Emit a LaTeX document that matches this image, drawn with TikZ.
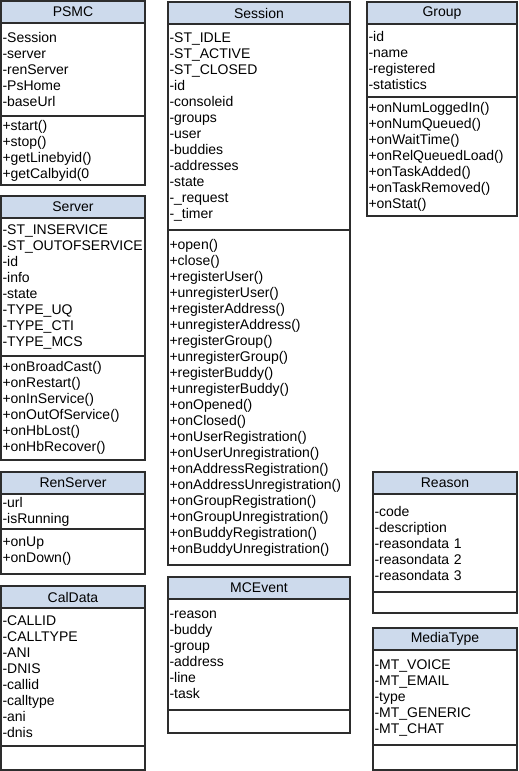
\documentclass[tikz,border=0pt]{standalone}
\usepackage{fontspec}
\setmainfont{Liberation Sans}
\usetikzlibrary{positioning}
\definecolor{headblue}{RGB}{205,218,236}
\definecolor{bordo}{RGB}{45,45,45}
\exhyphenpenalty=10000
\hyphenpenalty=10000

\begin{document}
\begin{tikzpicture}[x=1pt, y=-1pt, node distance=12pt, font=\fontsize{14}{16}\selectfont]
        % Stili
        \tikzstyle{head} = [draw=bordo, line width=1.2pt, fill=headblue, minimum height=22pt, inner xsep=1.5pt, inner ysep=0pt, outer sep=0pt, align=center]
        \tikzstyle{part} = [draw=bordo, line width=1.2pt, fill=white, inner xsep=1.5pt, inner ysep=0pt, outer sep=0pt, align=left]
        \tikzstyle{narrow} = [text width=141pt]
        \tikzstyle{mid} = [text width=147pt]
        \tikzstyle{wide} = [text width=179pt]

        \fill [white] (0,0) rectangle (519,771);
        \useasboundingbox (0,0) rectangle (519,771);

        % Colonna sinistra
        \node [head, narrow, anchor=north west] (psmc) at (1,1) {PSMC};
        \node [part, narrow, minimum height=93pt, below=0pt of psmc] (psmcA) {-Session\\-server\\-renServer\\-PsHome\\-baseUrl};
        \node [part, narrow, minimum height=69pt, below=0pt of psmcA] (psmcM) {+start()\\+stop()\\+getLinebyid()\\+getCalbyid(0};

        \node [head, narrow, below=11pt of psmcM] (server) {Server};
        \node [part, narrow, minimum height=138pt, below=0pt of server] (serverA) {-ST\_INSERVICE\\-ST\_OUTOFSERVICE\\-id\\-info\\-state\\-TYPE\_UQ\\-TYPE\_CTI\\-TYPE\_MCS};
        \node [part, narrow, minimum height=104pt, below=0pt of serverA] (serverM) {+onBroadCast()\\+onRestart()\\+onInService()\\+onOutOfService()\\+onHbLost()\\+onHbRecover()};

        \node [head, narrow, below=12pt of serverM] (ren) {RenServer};
        \node [part, narrow, minimum height=35pt, below=0pt of ren] (renA) {-url\\-isRunning};
        \node [part, narrow, minimum height=45pt, below=0pt of renA] (renM) {+onUp\\+onDown()};

        \node [head, narrow, below=12pt of renM] (cal) {CalData};
        \node [part, narrow, minimum height=138pt, below=0pt of cal] (calA) {-CALLID\\-CALLTYPE\\-ANI\\-DNIS\\-callid\\-calltype\\-ani\\-dnis};
        \node [part, narrow, minimum height=24pt, below=0pt of calA] (calM) {};

        % Colonna centrale
        \node [head, wide, anchor=north west] (session) at (168,2) {Session};
        \node [part, wide, minimum height=206pt, below=0pt of session] (sessionA) {-ST\_IDLE\\-ST\_ACTIVE\\-ST\_CLOSED\\-id\\-consoleid\\-groups\\-user\\-buddies\\-addresses\\-state\\-\_request\\-\_timer};
        \node [part, wide, minimum height=335pt, below=0pt of sessionA] (sessionM) {+open()\\+close()\\+registerUser()\\+unregisterUser()\\+registerAddress()\\+unregisterAddress()\\+registerGroup()\\+unregisterGroup()\\+registerBuddy()\\+unregisterBuddy()\\+onOpened()\\+onClosed()\\+onUserRegistration()\\+onUserUnregistration()\\+onAddressRegistration()\\+onAddressUnregistration()\\+onGroupRegistration()\\+onGroupUnregistration()\\+onBuddyRegistration()\\+onBuddyUnregistration()};

        \node [head, wide, below=12pt of sessionM] (mce) {MCEvent};
        \node [part, wide, minimum height=111pt, below=0pt of mce] (mceA) {-reason\\-buddy\\-group\\-address\\-line\\-task};
        \node [part, wide, minimum height=23pt, below=0pt of mceA] (mceM) {};

        % Colonna destra
        \node [head, mid, anchor=north west] (group) at (367,2) {Group};
        \node [part, mid, minimum height=73pt, below=0pt of group] (groupA) {-id\\-name\\-registered\\-statistics};
        \node [part, mid, minimum height=119pt, below=0pt of groupA] (groupM) {+onNumLoggedIn()\\+onNumQueued()\\+onWaitTime()\\+onRelQueuedLoad()\\+onTaskAdded()\\+onTaskRemoved()\\+onStat()};

        \node [head, narrow, anchor=north west] (reason) at (373,472) {Reason};
        \node [part, narrow, minimum height=98pt, below=0pt of reason] (reasonA) {-code\\-description\\-reasondata 1\\-reasondata 2\\-reasondata 3};
        \node [part, narrow, minimum height=21pt, below=0pt of reasonA] (reasonM) {};

        \node [head, narrow, below=15pt of reasonM] (media) {MediaType};
        \node [part, narrow, minimum height=95pt, below=0pt of media] (mediaA) {-MT\_VOICE\\-MT\_EMAIL\\-type\\-MT\_GENERIC\\-MT\_CHAT};
        \node [part, narrow, minimum height=25pt, below=0pt of mediaA] (mediaM) {};

    \end{tikzpicture}
\end{document}
